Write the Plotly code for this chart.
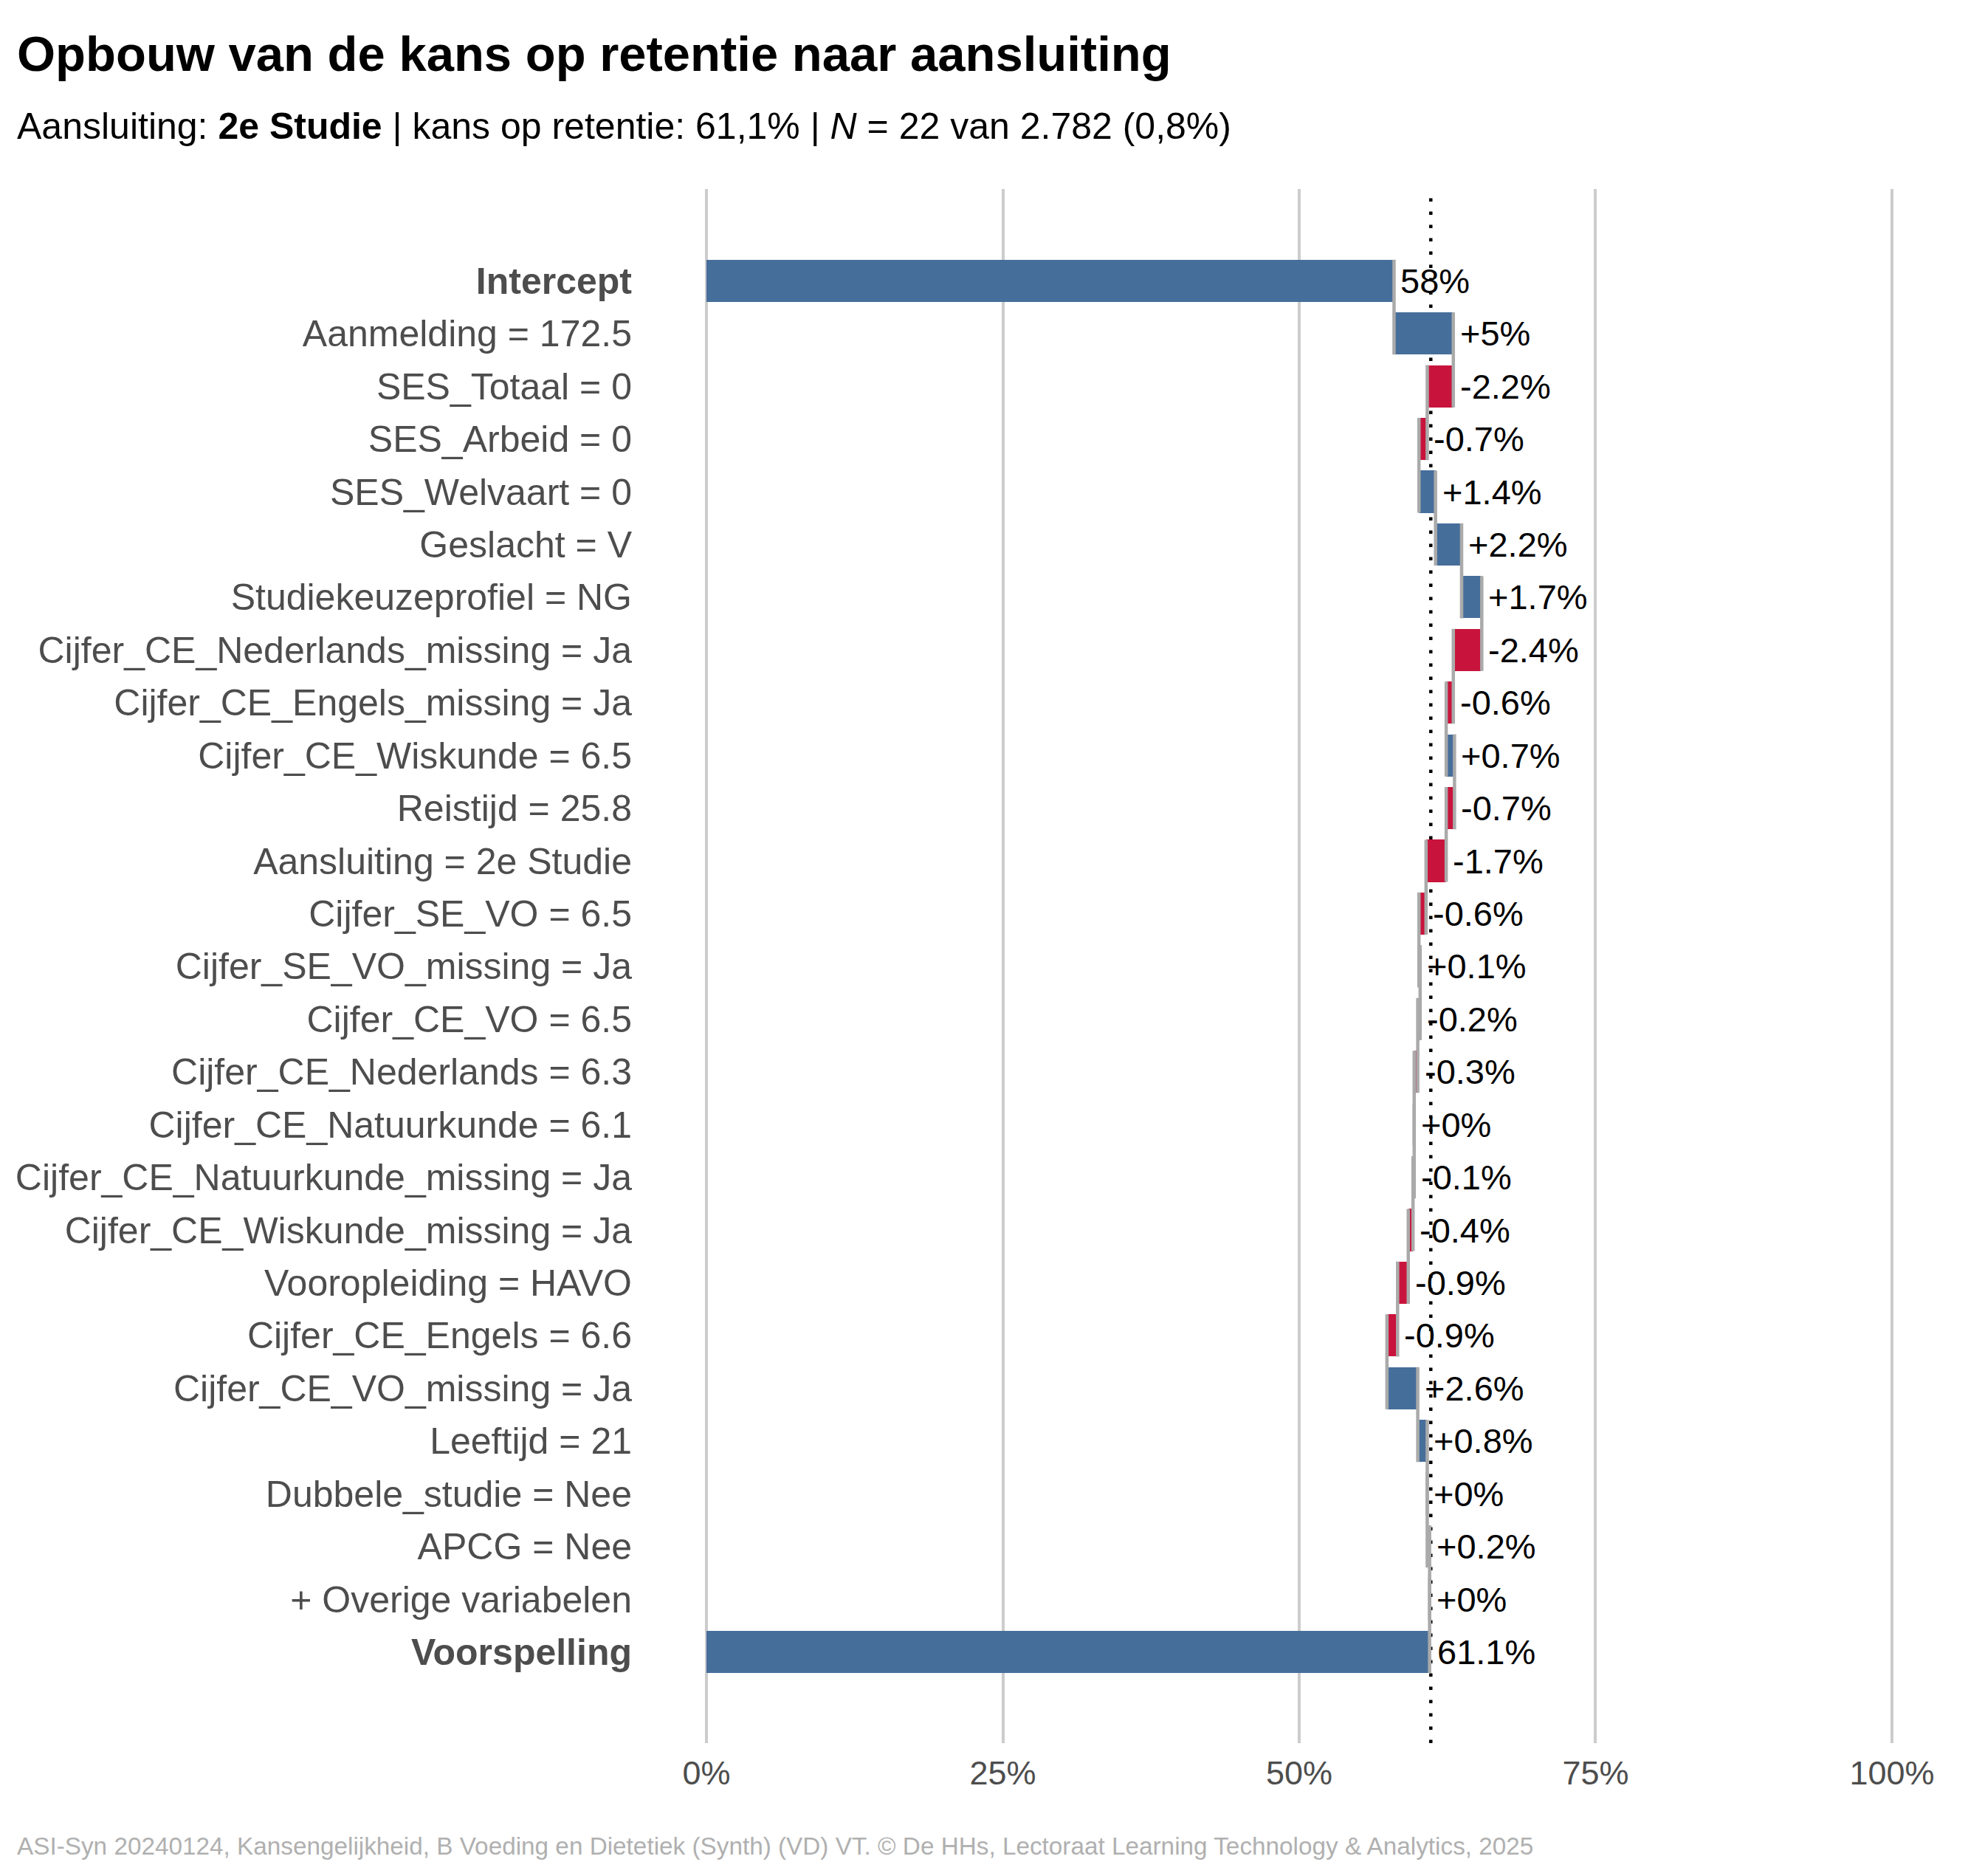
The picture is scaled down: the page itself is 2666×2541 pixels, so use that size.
import plotly.graph_objects as go

# ---------------- data ----------------
row_labels = [
    "Intercept", "Aanmelding = 172.5", "SES_Totaal = 0", "SES_Arbeid = 0",
    "SES_Welvaart = 0", "Geslacht = V", "Studiekeuzeprofiel = NG",
    "Cijfer_CE_Nederlands_missing = Ja", "Cijfer_CE_Engels_missing = Ja",
    "Cijfer_CE_Wiskunde = 6.5", "Reistijd = 25.8", "Aansluiting = 2e Studie",
    "Cijfer_SE_VO = 6.5", "Cijfer_SE_VO_missing = Ja", "Cijfer_CE_VO = 6.5",
    "Cijfer_CE_Nederlands = 6.3", "Cijfer_CE_Natuurkunde = 6.1",
    "Cijfer_CE_Natuurkunde_missing = Ja", "Cijfer_CE_Wiskunde_missing = Ja",
    "Vooropleiding = HAVO", "Cijfer_CE_Engels = 6.6", "Cijfer_CE_VO_missing = Ja",
    "Leeftijd = 21", "Dubbele_studie = Nee", "APCG = Nee",
    "+ Overige variabelen", "Voorspelling",
]
intercept = 58.0
contributions = [5.0, -2.2, -0.7, 1.4, 2.2, 1.7, -2.4, -0.6, 0.7, -0.7, -1.7,
                 -0.6, 0.1, -0.2, -0.3, 0.0, -0.1, -0.4, -0.9, -0.9, 2.6, 0.8,
                 0.0, 0.2, 0.0]
prediction = 61.1
x_tick_vals = [0, 25, 50, 75, 100]
x_tick_text = ["0%", "25%", "50%", "75%", "100%"]

title_text = "<b>Opbouw van de kans op retentie naar aansluiting</b>"
subtitle_text = ("Aansluiting: <b>2e Studie</b> | kans op retentie: 61,1% | "
                 "<i>N</i> = 22 van 2.782 (0,8%)")
footer_text = ("ASI-Syn 20240124, Kansengelijkheid, B Voeding en Dietetiek (Synth) (VD) VT. "
               "© De HHs, Lectoraat Learning Technology & Analytics, 2025")

# ---------------- styling ----------------
# the page body has an 8px margin, so the figure is sized/positioned for it
W, H = 2658, 2533
L, R, T, B = 940.5, 95, 248, 180
X_RANGE = [-0.5, 100.5]
Y_RANGE = [27.73, -1.74]
BLUE = "#466e9b"
RED = "#c8143c"
GREY = "#aaaaaa"
FONT = "Liberation Sans, Arial, Helvetica, sans-serif"
BAR_W = 0.8

def px_x(px):
    return (px - L) / (W - L - R)

def px_y(py):
    return (H - B - py) / (H - T - B)

def fmt(v, signed):
    s = f"{abs(v):.1f}".rstrip("0").rstrip(".")
    if signed:
        return ("+" if v >= 0 else "-") + s + "%"
    return s + "%"

# ---------------- derived waterfall geometry ----------------
n = len(row_labels)
cum = [intercept]
for c in contributions:
    cum.append(cum[-1] + c)

bases, lengths, colors, label_x, label_t = [], [], [], [], []
bases.append(0.0); lengths.append(intercept); colors.append(BLUE)
label_x.append(intercept); label_t.append(fmt(intercept, False))
for i, c in enumerate(contributions, start=1):
    s, e = cum[i - 1], cum[i]
    bases.append(min(s, e)); lengths.append(abs(c))
    colors.append(BLUE if c >= 0 else RED)
    label_x.append(max(s, e)); label_t.append(fmt(c, True))
bases.append(0.0); lengths.append(prediction); colors.append(BLUE)
label_x.append(prediction); label_t.append(fmt(prediction, False))

rows = list(range(n))

fig = go.Figure()

fig.add_trace(go.Bar(
    y=rows, x=lengths, base=bases, orientation="h", width=BAR_W,
    marker=dict(color=colors, line=dict(width=0)),
    showlegend=False, hoverinfo="skip"))

# grey connectors between consecutive bars
cx, cy = [], []
for i in range(n - 1):
    cx += [cum[i], cum[i], None]
    cy += [i - BAR_W / 2, i + 1 + BAR_W / 2, None]
fig.add_trace(go.Scatter(
    x=cx, y=cy, mode="lines", line=dict(color=GREY, width=4.5),
    hoverinfo="skip", showlegend=False))

# dotted reference line at the prediction, beneath the bars
fig.add_shape(type="line", xref="x", yref="paper", x0=prediction, x1=prediction,
              y0=0, y1=1, layer="below",
              line=dict(color="black", width=4.5, dash="4.5px,13.5px"))

annotations = []
for x, y, t in zip(label_x, rows, label_t):
    annotations.append(dict(
        x=x, y=y, xref="x", yref="y", text=t, showarrow=False,
        xanchor="left", yanchor="middle", xshift=7,
        font=dict(family=FONT, size=47, color="black")))

annotations.append(dict(
    x=px_x(12), y=px_y(64), xref="paper", yref="paper", text=title_text,
    showarrow=False, xanchor="left", yanchor="middle",
    font=dict(family=FONT, size=67, color="black")))
annotations.append(dict(
    x=px_x(12), y=px_y(163), xref="paper", yref="paper", text=subtitle_text,
    showarrow=False, xanchor="left", yanchor="middle",
    font=dict(family=FONT, size=50, color="black")))
annotations.append(dict(
    x=px_x(12), y=px_y(2492), xref="paper", yref="paper", text=footer_text,
    showarrow=False, xanchor="left", yanchor="middle",
    font=dict(family=FONT, size=33.3, color="#b0b0b0")))

tick_text_y = [f"<b>{t}</b>" if t in ("Intercept", "Voorspelling") else t
               for t in row_labels]

fig.update_layout(
    width=W, height=H,
    margin=dict(l=L, r=R, t=T, b=B, pad=0),
    paper_bgcolor="white", plot_bgcolor="white",
    font=dict(family=FONT),
    bargap=0, showlegend=False,
    annotations=annotations,
    xaxis=dict(range=X_RANGE, tickmode="array", tickvals=x_tick_vals,
               ticktext=x_tick_text, showgrid=True, gridcolor="#cccccc",
               gridwidth=3.5, zeroline=False, showline=False, ticks="",
               tickfont=dict(family=FONT, size=45, color="#4d4d4d"),
               ticklabelstandoff=10),
    yaxis=dict(range=Y_RANGE, tickmode="array", tickvals=rows,
               ticktext=tick_text_y, showgrid=False, zeroline=False,
               showline=False, ticks="",
               tickfont=dict(family=FONT, size=50, color="#4d4d4d"),
               ticklabelstandoff=92),
)

fig.write_html("out.html")
